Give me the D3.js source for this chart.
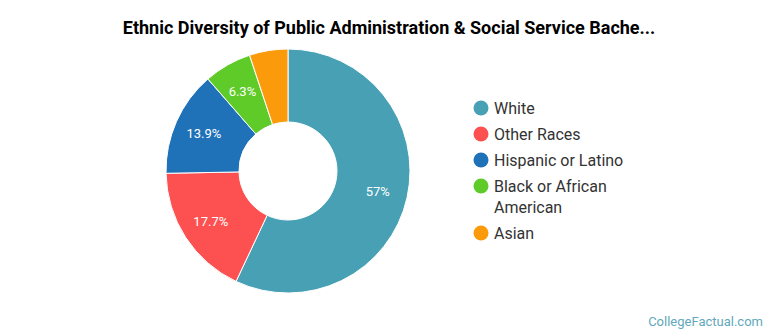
<!DOCTYPE html>
<html>
<head>
<meta charset="utf-8">
<script src="https://cdn.jsdelivr.net/npm/d3@7"></script>
<style>
  body { margin: 0; background: #fff; }
  svg { font-family: Roboto, "Noto Sans", sans-serif; }
</style>
</head>
<body>
<svg id="chart" width="770" height="335"></svg>
<script>
const races   = ['White', 'Other Races', 'Hispanic or Latino', 'Black or African American', 'Asian'];
const shares  = [57, 17.7, 13.9, 6.3, 5.1];
const labels  = ['57%', '17.7%', '13.9%', '6.3%', ''];
const colors  = ['#48a0b4', '#fd5151', '#1f71b8', '#5ecb28', '#fb9a0b'];

const svg = d3.select('#chart');

// title
svg.append('text')
  .attr('x', 389)
  .attr('y', 34)
  .attr('text-anchor', 'middle')
  .attr('font-size', 18)
  .attr('font-weight', 'bold')
  .attr('fill', '#000')
  .text('Ethnic Diversity of Public Administration & Social Service Bache...');

// donut
const cx = 288, cy = 171, outer = 122, inner = 49;

const pie = d3.pie().sort(null).value(d => d.value);
const arc = d3.arc().innerRadius(inner).outerRadius(outer);
const labelArc = d3.arc().innerRadius(92).outerRadius(92);

const data = races.map((r, i) => ({ race: r, value: shares[i], label: labels[i], color: colors[i] }));

const g = svg.append('g').attr('transform', `translate(${cx},${cy})`);

g.selectAll('path')
  .data(pie(data))
  .join('path')
  .attr('d', arc)
  .attr('fill', d => d.data.color)
  .attr('stroke', '#fff')
  .attr('stroke-width', 1);

g.selectAll('text')
  .data(pie(data))
  .join('text')
  .attr('transform', d => `translate(${labelArc.centroid(d)})`)
  .attr('text-anchor', 'middle')
  .attr('dy', '0.35em')
  .attr('font-size', 13)
  .attr('fill', '#fff')
  .text(d => d.data.label);

// legend
const legendRows = [
  { lines: ['White'], y: 108 },
  { lines: ['Other Races'], y: 134 },
  { lines: ['Hispanic or Latino'], y: 160 },
  { lines: ['Black or African', 'American'], y: 186 },
  { lines: ['Asian'], y: 233 }
];

const legend = svg.append('g');
legendRows.forEach((row, i) => {
  legend.append('circle')
    .attr('cx', 481)
    .attr('cy', row.y)
    .attr('r', 7.5)
    .attr('fill', colors[i]);
  const t = legend.append('text')
    .attr('x', 494)
    .attr('y', row.y)
    .attr('font-size', 16)
    .attr('fill', '#333');
  row.lines.forEach((line, j) => {
    t.append('tspan')
      .attr('x', 494)
      .attr('dy', j === 0 ? '0.35em' : 21)
      .text(line);
  });
});

// watermark
svg.append('text')
  .attr('x', 763)
  .attr('y', 326)
  .attr('text-anchor', 'end')
  .attr('font-size', 13)
  .attr('fill', '#5fa8bb')
  .text('CollegeFactual.com');
</script>
</body>
</html>
